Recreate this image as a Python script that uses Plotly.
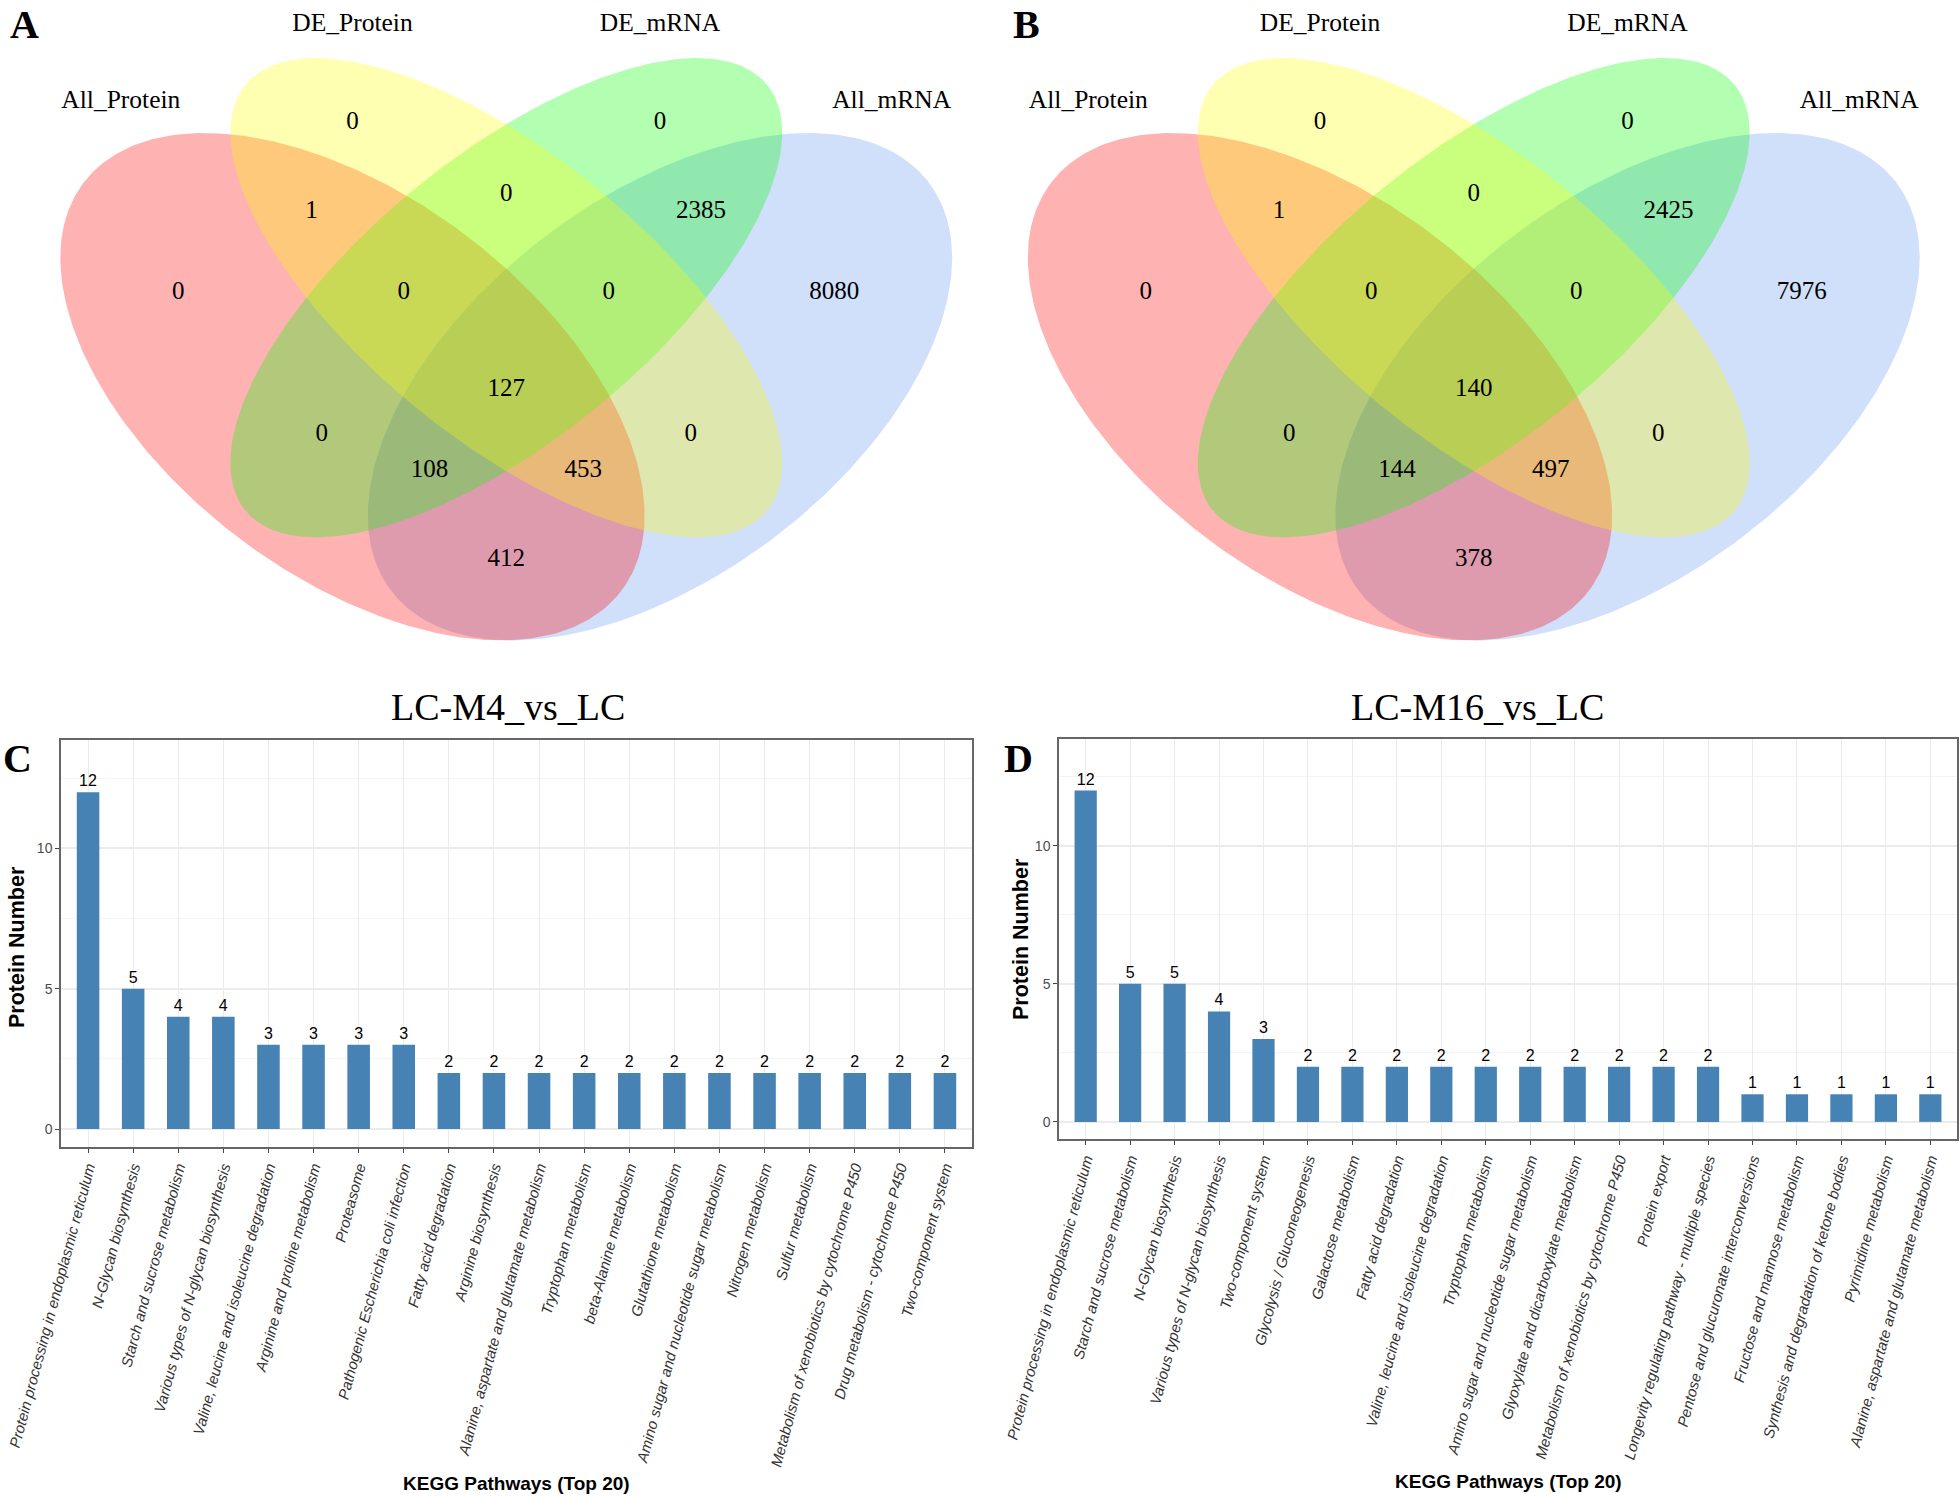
import numpy as np
import plotly.graph_objects as go

W, H = 1960, 1496

# ---------------- data ----------------
venn_sets = ["All_Protein", "DE_Protein", "DE_mRNA", "All_mRNA"]
venn_regions = [
    "DE_Protein only", "DE_mRNA only", "DE_Protein&DE_mRNA", "All_Protein&DE_Protein",
    "DE_mRNA&All_mRNA", "All_Protein only", "All_Protein&DE_Protein&DE_mRNA",
    "DE_Protein&DE_mRNA&All_mRNA", "All_mRNA only", "All four", "All_Protein&DE_mRNA",
    "DE_Protein&All_mRNA", "All_Protein&DE_mRNA&All_mRNA", "All_Protein&DE_Protein&All_mRNA",
    "All_Protein&All_mRNA",
]
venn_counts_A = [0, 0, 0, 1, 2385, 0, 0, 0, 8080, 127, 0, 0, 108, 453, 412]
venn_counts_B = [0, 0, 0, 1, 2425, 0, 0, 0, 7976, 140, 0, 0, 144, 497, 378]

pathways_C = [
    "Protein processing in endoplasmic reticulum", "N-Glycan biosynthesis",
    "Starch and sucrose metabolism", "Various types of N-glycan biosynthesis",
    "Valine, leucine and isoleucine degradation", "Arginine and proline metabolism",
    "Proteasome", "Pathogenic Escherichia coli infection", "Fatty acid degradation",
    "Arginine biosynthesis", "Alanine, aspartate and glutamate metabolism",
    "Tryptophan metabolism", "beta-Alanine metabolism", "Glutathione metabolism",
    "Amino sugar and nucleotide sugar metabolism", "Nitrogen metabolism",
    "Sulfur metabolism", "Metabolism of xenobiotics by cytochrome P450",
    "Drug metabolism - cytochrome P450", "Two-component system",
]
counts_C = [12, 5, 4, 4, 3, 3, 3, 3, 2, 2, 2, 2, 2, 2, 2, 2, 2, 2, 2, 2]

pathways_D = [
    "Protein processing in endoplasmic reticulum", "Starch and sucrose metabolism",
    "N-Glycan biosynthesis", "Various types of N-glycan biosynthesis",
    "Two-component system", "Glycolysis / Gluconeogenesis", "Galactose metabolism",
    "Fatty acid degradation", "Valine, leucine and isoleucine degradation",
    "Tryptophan metabolism", "Amino sugar and nucleotide sugar metabolism",
    "Glyoxylate and dicarboxylate metabolism",
    "Metabolism of xenobiotics by cytochrome P450", "Protein export",
    "Longevity regulating pathway - multiple species",
    "Pentose and glucuronate interconversions", "Fructose and mannose metabolism",
    "Synthesis and degradation of ketone bodies", "Pyrimidine metabolism",
    "Alanine, aspartate and glutamate metabolism",
]
counts_D = [12, 5, 5, 4, 3, 2, 2, 2, 2, 2, 2, 2, 2, 2, 2, 1, 1, 1, 1, 1]

titles = ["LC-M4_vs_LC", "LC-M16_vs_LC"]
panel_letters = ["A", "B", "C", "D"]

# ---------------- layout helpers (geometry / styling) ----------------
def px_x(p):
    return p / W

def px_y(p):
    return 1 - p / H

SERIF = "Liberation Serif, Times New Roman, serif"
SANS = "Liberation Sans, Arial, sans-serif"

# Venn geometry in normalised (npc) units
region_pos = [(0.35, 0.77), (0.65, 0.77), (0.5, 0.69), (0.31, 0.67), (0.69, 0.67),
              (0.18, 0.58), (0.40, 0.58), (0.60, 0.58), (0.82, 0.58), (0.5, 0.47),
              (0.32, 0.42), (0.68, 0.42), (0.425, 0.38), (0.575, 0.38), (0.5, 0.28)]
set_label_pos = [(0.124, 0.792), (0.35, 0.879), (0.65, 0.879), (0.876, 0.792)]
ell_center = [(0.35, 0.47), (0.5, 0.57), (0.5, 0.57), (0.65, 0.47)]
ell_axes = [(0.35, 0.2), (0.35, 0.15), (0.35, 0.15), (0.35, 0.2)]
ell_rot = [-45, -45, 45, 45]
ell_fill = ["rgba(255,0,0,0.3)", "rgba(255,255,0,0.3)", "rgba(0,255,0,0.3)",
            "rgba(100,149,237,0.3)"]
draw_order = [3, 0, 2, 1]

# npc -> pixel mapping: x_px = X0 + SX*x, y_px = Y0 - SY*y
SX, SY, Y0 = 1025.0, 890.0, 805.0
venn_x0 = [-6.25, 961.25]
venn_px_x = [(0, 980), (980, 1960)]
venn_px_y = (0, 690)
text_dy = 3.5 / SY  # small downward nudge of the Venn texts

fig = go.Figure()

t = np.linspace(0, 2 * np.pi, 400)
for k, counts in enumerate([venn_counts_A, venn_counts_B]):
    xa, ya = ("x3", "y3") if k == 0 else ("x4", "y4")
    for i in draw_order:
        cx, cy = ell_center[i]
        a, b = ell_axes[i]
        th = np.radians(ell_rot[i])
        ex = cx + a * np.cos(t) * np.cos(th) - b * np.sin(t) * np.sin(th)
        ey = cy + a * np.cos(t) * np.sin(th) + b * np.sin(t) * np.cos(th)
        fig.add_trace(go.Scatter(x=ex, y=ey, mode="lines", fill="toself",
                                 fillcolor=ell_fill[i],
                                 line=dict(width=0, color="rgba(0,0,0,0)"),
                                 xaxis=xa, yaxis=ya, hoverinfo="skip", showlegend=False))
    fig.add_trace(go.Scatter(x=[p[0] for p in region_pos], y=[p[1] - text_dy for p in region_pos],
                             mode="text", text=[str(c) for c in counts],
                             textposition="middle center",
                             textfont=dict(family=SERIF, size=25, color="black"),
                             xaxis=xa, yaxis=ya, hoverinfo="skip", showlegend=False))
    fig.add_trace(go.Scatter(x=[p[0] for p in set_label_pos], y=[p[1] - text_dy * 0.5 for p in set_label_pos],
                             mode="text", text=venn_sets, textposition="middle center",
                             textfont=dict(family=SERIF, size=25.5, color="black"),
                             xaxis=xa, yaxis=ya, hoverinfo="skip", showlegend=False))

bar_text_font = dict(family=SANS, size=16, color="black")
fig.add_trace(go.Bar(x=pathways_C, y=counts_C, width=0.5, marker=dict(color="#4682B4", line=dict(width=0)),
                     text=[str(v) for v in counts_C], textposition="outside", textfont=bar_text_font,
                     constraintext="none", cliponaxis=False, xaxis="x", yaxis="y", showlegend=False))
fig.add_trace(go.Bar(x=pathways_D, y=counts_D, width=0.5, marker=dict(color="#4682B4", line=dict(width=0)),
                     text=[str(v) for v in counts_D], textposition="outside", textfont=bar_text_font,
                     constraintext="none", cliponaxis=False, xaxis="x2", yaxis="y2", showlegend=False))

venn_axis = dict(visible=False, showgrid=False, zeroline=False, fixedrange=True)
layout = dict(
    width=W, height=H, margin=dict(l=0, r=0, t=0, b=0),
    paper_bgcolor="white", plot_bgcolor="rgba(0,0,0,0)", showlegend=False,
)
for k in range(2):
    n = 3 + k
    lo, hi = venn_px_x[k]
    layout[f"xaxis{n}"] = dict(venn_axis, domain=[px_x(lo), px_x(hi)], anchor=f"y{n}",
                               range=[(lo - venn_x0[k]) / SX, (hi - venn_x0[k]) / SX])
    layout[f"yaxis{n}"] = dict(venn_axis, domain=[px_y(venn_px_y[1]), px_y(venn_px_y[0])], anchor=f"x{n}",
                               range=[(Y0 - venn_px_y[1]) / SY, (Y0 - venn_px_y[0]) / SY])

bar_px = [((61, 972), (740, 1147), (-0.64, 13.86)), ((1059, 1957), (739, 1139), (-0.62, 13.87))]
for k in range(2):
    sfx = "" if k == 0 else "2"
    (xl, xr), (yt, yb), yr = bar_px[k]
    layout[f"xaxis{sfx}"] = dict(
        domain=[px_x(xl), px_x(xr)], anchor=f"y{sfx}", type="category", range=[-0.6, 19.6],
        tickangle=-75, tickfont=dict(family=SANS, size=15, style="italic", color="#333333"),
        showgrid=True, gridcolor="#EBEBEB", gridwidth=1.2, ticks="outside", ticklen=4,
        tickcolor="#444444", tickwidth=1, showline=True, mirror=True, linecolor="#666666",
        linewidth=1.5, automargin=False, fixedrange=True, zeroline=False)
    layout[f"yaxis{sfx}"] = dict(
        domain=[px_y(yb), px_y(yt)], anchor=f"x{sfx}", range=list(yr), tickvals=[0, 5, 10],
        tickfont=dict(family=SANS, size=14, color="#4D4D4D"), ticks="outside", ticklen=4,
        tickcolor="#444444", showgrid=True, gridcolor="#EBEBEB", gridwidth=1.5,
        minor=dict(dtick=2.5, tick0=0, showgrid=True, gridcolor="#F4F4F4", gridwidth=1),
        showline=True, mirror=True, linecolor="#666666", linewidth=1.5, zeroline=False,
        automargin=False, fixedrange=True)

anns = []
# panel letters (A, B anchored at top so they stay inside the page)
letter_pos = [(24, 0, "top"), (1026, 0, "top"), (17, 758, "middle"), (1019, 758, "middle")]
for letter, (x, y, ya) in zip(panel_letters, letter_pos):
    anns.append(dict(text=f"<b>{letter}</b>", x=px_x(x), y=px_y(y), xref="paper", yref="paper",
                     xanchor="center", yanchor=ya, showarrow=False,
                     font=dict(family=SERIF, size=40, color="black")))
# titles
for ttl, x in zip(titles, [508, 1477]):
    anns.append(dict(text=ttl, x=px_x(x), y=px_y(707), xref="paper", yref="paper",
                     xanchor="center", yanchor="middle", showarrow=False,
                     font=dict(family=SERIF, size=38, color="black")))
# axis titles
for x, y in [(17, 947), (1021, 939)]:
    anns.append(dict(text="<b>Protein Number</b>", x=px_x(x), y=px_y(y), xref="paper", yref="paper",
                     xanchor="center", yanchor="middle", showarrow=False, textangle=-90,
                     font=dict(family=SANS, size=21.5, color="black")))
for x, y in [(516, 1483), (1508, 1481)]:
    anns.append(dict(text="<b>KEGG Pathways (Top 20)</b>", x=px_x(x), y=px_y(y), xref="paper",
                     yref="paper", xanchor="center", yanchor="middle", showarrow=False,
                     font=dict(family=SANS, size=19, color="black")))
layout["annotations"] = anns

fig.update_layout(**layout)
fig.write_html("out.html", config={"displayModeBar": False},
               post_script="document.body.style.margin='0px';document.body.style.overflow='hidden';")
